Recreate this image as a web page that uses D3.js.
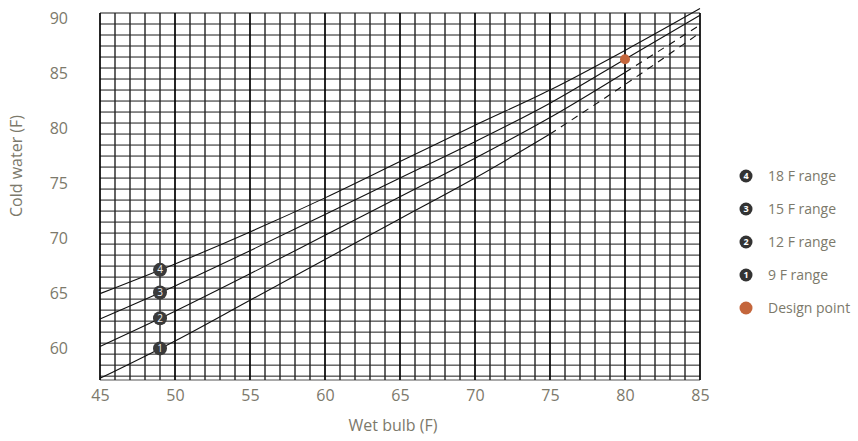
<!DOCTYPE html>
<html lang="en">
<head>
<meta charset="utf-8">
<title>Cold water vs wet bulb</title>
<script src="https://d3js.org/d3.v7.min.js"></script>
<style>
  body { margin: 0; background: #fff; }
  text { font-family: "Open Sans", "Noto Sans", sans-serif; fill: #7c796b; }
</style>
</head>
<body>
<div id="chart"></div>
<script>
// wet bulb points along each curve
var wetBulb = [45, 50, 55, 60, 65, 70, 75, 80, 85];

// cold water values, one array per range line
var range9  = [56.8, 60.2, 63.9, 67.6, 71.3, 75.0, 79.0, 83.5, 88.2];
var range12 = [59.7, 62.9, 66.3, 69.8, 73.3, 76.8, 80.5, 84.6, 88.9];
var range15 = [62.2, 65.2, 68.4, 71.7, 75.0, 78.3, 81.8, 85.8, 89.8];
var range18 = [64.5, 67.2, 70.1, 73.2, 76.5, 79.8, 83.0, 86.6, 90.4];

var seriesNames = ["9 F range", "12 F range", "15 F range", "18 F range"];
var seriesValues = [range9, range12, range15, range18];
// wet bulb where a line turns dashed (null = solid all the way)
var dashFrom = [75, 80, null, null];

var markerWetBulb = 49;
var designPoint = {wb: 80, cw: 85.8};

var xTicks = [45, 50, 55, 60, 65, 70, 75, 80, 85];
var yTicks = [60, 65, 70, 75, 80, 85, 90];

var width = 858, height = 441;
var plotL = 100, plotR = 700, plotT = 13, plotB = 380;

var svg = d3.select("#chart").append("svg")
    .attr("width", width)
    .attr("height", height);

var x = d3.scaleLinear().domain([45, 85]).range([plotL, plotR]);
var y = d3.scaleLinear().domain([56.65, 90]).range([plotB, plotT]);

// grid
var grid = svg.append("g");
grid.selectAll("line.h")
    .data(d3.range(57, 91))
    .enter().append("line")
    .attr("x1", plotL).attr("x2", plotR)
    .attr("y1", function(d) { return y(d); })
    .attr("y2", function(d) { return y(d); })
    .attr("stroke", "#1a1a1a")
    .attr("stroke-width", 1);

grid.append("line")
    .attr("x1", plotL).attr("x2", plotR)
    .attr("y1", plotB).attr("y2", plotB)
    .attr("stroke", "#555").attr("stroke-width", 1);

grid.selectAll("line.v")
    .data(d3.range(45, 86))
    .enter().append("line")
    .attr("x1", function(d) { return x(d); })
    .attr("x2", function(d) { return x(d); })
    .attr("y1", plotT).attr("y2", plotB)
    .attr("stroke", function(d) { return d % 5 == 0 ? "#000" : "#222"; })
    .attr("stroke-width", function(d) { return d % 5 == 0 ? 1.7 : 1.4; });

// axes (labels only)
var xAxis = svg.append("g")
    .attr("transform", "translate(0," + plotB + ")")
    .call(d3.axisBottom(x).tickValues(xTicks).tickSize(0).tickPadding(10));
xAxis.select(".domain").remove();
xAxis.selectAll("text").style("font-size", "16px").attr("fill", null);

var yAxis = svg.append("g")
    .attr("transform", "translate(" + plotL + ",0)")
    .call(d3.axisLeft(y).tickValues(yTicks).tickSize(0).tickPadding(32));
yAxis.select(".domain").remove();
yAxis.selectAll("text").style("font-size", "16px").attr("fill", null).attr("dy", "0.65em");

svg.append("text")
    .attr("x", 393).attr("y", 431)
    .attr("text-anchor", "middle")
    .style("font-size", "16px")
    .text("Wet bulb (F)");

svg.append("text")
    .attr("transform", "translate(22,166) rotate(-90)")
    .attr("text-anchor", "middle")
    .style("font-size", "16px")
    .text("Cold water (F)");

// range lines
var line = d3.line()
    .x(function(d) { return x(d[0]); })
    .y(function(d) { return y(d[1]); })
    .curve(d3.curveMonotoneX);

seriesValues.forEach(function(vals, i) {
    var pts = wetBulb.map(function(w, j) { return [w, vals[j]]; });
    var cut = dashFrom[i];
    var solid = cut == null ? pts : pts.filter(function(p) { return p[0] <= cut; });
    svg.append("path")
        .attr("d", line(solid))
        .attr("fill", "none")
        .attr("stroke", "#111")
        .attr("stroke-width", 1.1);
    if (cut != null) {
        svg.append("path")
            .attr("d", line(pts.filter(function(p) { return p[0] >= cut; })))
            .attr("fill", "none")
            .attr("stroke", "#111")
            .attr("stroke-width", 1.1)
            .attr("stroke-dasharray", "7,6");
    }
});

// numbered markers on the lines
var interp = function(vals, w) {
    return d3.scaleLinear().domain(wetBulb).range(vals)(w);
};
seriesValues.forEach(function(vals, i) {
    var g = svg.append("g")
        .attr("transform", "translate(" + x(markerWetBulb) + "," + y(interp(vals, markerWetBulb)) + ")");
    g.append("circle").attr("r", 7).attr("fill", "#3a3a3a");
    g.append("text")
        .attr("text-anchor", "middle")
        .attr("dy", "0.36em")
        .style("font-size", "10px")
        .style("fill", "#eee")
        .text(i + 1);
});

// design point
svg.append("circle")
    .attr("cx", x(designPoint.wb))
    .attr("cy", y(designPoint.cw))
    .attr("r", 5)
    .attr("fill", "#c4663c");

// legend
var legendItems = [
    {label: "18 F range", num: 4},
    {label: "15 F range", num: 3},
    {label: "12 F range", num: 2},
    {label: "9 F range", num: 1},
    {label: "Design point", num: null}
];
var legend = svg.append("g");
legendItems.forEach(function(d, i) {
    var yy = 176 + i * 33;
    if (d.num != null) {
        legend.append("circle").attr("cx", 746).attr("cy", yy).attr("r", 6.5).attr("fill", "#333");
        legend.append("text")
            .attr("x", 746).attr("y", yy)
            .attr("dy", "0.36em")
            .attr("text-anchor", "middle")
            .style("font-size", "9px")
            .style("font-weight", "bold")
            .style("fill", "#fff")
            .text(d.num);
    } else {
        legend.append("circle").attr("cx", 746).attr("cy", yy).attr("r", 6.5).attr("fill", "#c4663c");
    }
    legend.append("text")
        .attr("x", 768).attr("y", yy)
        .attr("dy", "0.35em")
        .style("font-size", "14px")
        .text(d.label);
});
</script>
</body>
</html>
